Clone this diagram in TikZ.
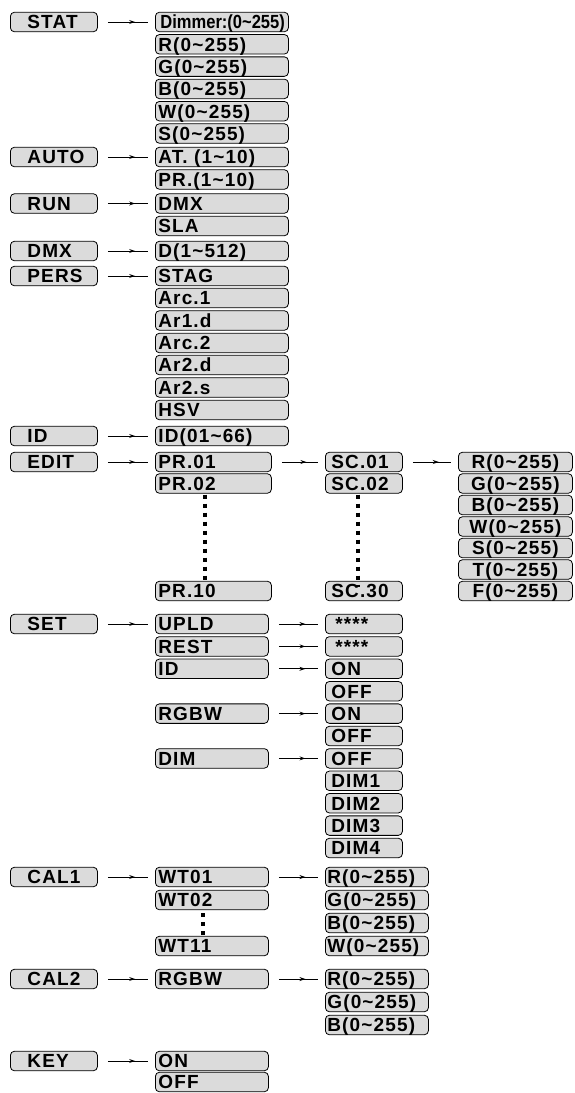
\documentclass[tikz,border=0pt]{standalone}
\usepackage{fontspec}
\usepackage{graphicx}
\usetikzlibrary{arrows.meta,decorations.markings}
\newfontfamily\lblfont{Liberation Sans}[LetterSpace=6]
\newfontfamily\lblfontN{Liberation Sans}
\definecolor{boxgray}{gray}{0.86}
\newcommand\tld{\char"007E\relax}
\begin{document}
\begin{tikzpicture}[x=1pt,y=-1pt,
  bx/.style={draw=black, line width=0.8pt, rounded corners=4pt, fill=boxgray,
    inner xsep=0pt, inner ysep=0pt, minimum height=19.5pt, text height=13.6pt,
    text depth=0pt, anchor=west, align=left,
    font=\lblfont\bfseries\fontsize{19}{20}\selectfont},
  cA/.style={bx, text width=87pt, execute at begin node={\hspace*{17pt}}},
  cW/.style={bx, text width=133pt, execute at begin node={\hspace*{3pt}}},
  cP/.style={bx, text width=116pt, execute at begin node={\hspace*{3pt}}},
  cB/.style={bx, text width=113pt, execute at begin node={\hspace*{3pt}}},
  cC/.style={bx, text width=77pt, execute at begin node={\hspace*{6pt}}},
  cCw/.style={bx, text width=103pt, execute at begin node={\hspace*{2pt}}},
  cD/.style={bx, text width=114pt, align=center},
  conn/.style={draw, line width=0.8pt, postaction={decorate},
    decoration={markings, mark=at position 0.68 with {\arrow{Stealth[open,length=6pt,width=4pt]}}}},
  dots/.style={line width=4pt, dash pattern=on 4pt off 5pt}
]
\useasboundingbox (0,0) rectangle (574,1093);
% STAT
\node[cA] (stat) at (10,22) {STAT};
\node[cW, font=\lblfontN\bfseries\fontsize{19}{20}\selectfont, execute at begin node={\hspace*{2pt}}] (dim) at (155,22) {\scalebox{0.87}[1]{Dimmer:(0\tld255)}};
\node[cW] (sr) at (155,44.3) {R(0\tld255)};
\node[cW] (sg) at (155,66.6) {G(0\tld255)};
\node[cW] (sb) at (155,88.9) {B(0\tld255)};
\node[cW] (sw) at (155,111.2) {W(0\tld255)};
\node[cW] (ss) at (155,133.5) {S(0\tld255)};
% AUTO
\node[cA] (auto) at (10,157) {AUTO};
\node[cW] (at) at (155,157) {AT. (1\tld10)};
\node[cW] (pr) at (155,179.5) {PR.(1\tld10)};
% RUN
\node[cA] (run) at (10,203.5) {RUN};
\node[cW] (rdmx) at (155,203.5) {DMX};
\node[cW] (sla) at (155,226) {SLA};
% DMX
\node[cA] (dmx) at (10,251) {DMX};
\node[cW] (d) at (155,251) {D(1\tld512)};
% PERS
\node[cA] (pers) at (10,276) {PERS};
\node[cW] (stag) at (155,276) {STAG};
\node[cW] (arc1) at (155,298) {Arc.1};
\node[cW] (ar1d) at (155,320.5) {Ar1.d};
\node[cW] (arc2) at (155,343) {Arc.2};
\node[cW] (ar2d) at (155,365) {Ar2.d};
\node[cW] (ar2s) at (155,387.5) {Ar2.s};
\node[cW] (hsv) at (155,410) {HSV};
% ID
\node[cA] (id) at (10,436) {ID};
\node[cW] (idr) at (155,436) {ID(01\tld66)};
% EDIT
\node[cA] (edit) at (10,462) {EDIT};
\node[cP] (pr01) at (155,462) {PR.01};
\node[cP] (pr02) at (155,483.5) {PR.02};
\node[cP] (pr10) at (155,591) {PR.10};
\node[cC] (sc01) at (325,462) {SC.01};
\node[cC] (sc02) at (325,483.5) {SC.02};
\node[cC] (sc30) at (325,591) {SC.30};
\node[cD] (er) at (458,462) {R(0\tld255)};
\node[cD] (eg) at (458,483.5) {G(0\tld255)};
\node[cD] (eb) at (458,505) {B(0\tld255)};
\node[cD] (ew) at (458,526.5) {W(0\tld255)};
\node[cD] (es) at (458,548) {S(0\tld255)};
\node[cD] (et) at (458,569.5) {T(0\tld255)};
\node[cD] (ef) at (458,591) {F(0\tld255)};
% SET
\node[cA] (set) at (10,624) {SET};
\node[cB] (upld) at (155,624) {UPLD};
\node[cB] (rest) at (155,646.4) {REST};
\node[cB] (sid) at (155,668.8) {ID};
\node[cB] (srgbw) at (155,713.6) {RGBW};
\node[cB] (sdim) at (155,758.4) {DIM};
\node[cC, execute at begin node={\hspace*{4pt}}] (st1) at (325,624) {****};
\node[cC, execute at begin node={\hspace*{4pt}}] (st2) at (325,646.4) {****};
\node[cC] (ion) at (325,668.8) {ON};
\node[cC] (ioff) at (325,691.2) {OFF};
\node[cC] (ron) at (325,713.6) {ON};
\node[cC] (roff) at (325,736) {OFF};
\node[cC] (doff) at (325,758.4) {OFF};
\node[cC] (dim1) at (325,780.8) {DIM1};
\node[cC] (dim2) at (325,803.2) {DIM2};
\node[cC] (dim3) at (325,825.6) {DIM3};
\node[cC] (dim4) at (325,848) {DIM4};
% CAL1
\node[cA] (cal1) at (10,877) {CAL1};
\node[cB] (wt01) at (155,877) {WT01};
\node[cB] (wt02) at (155,900) {WT02};
\node[cB] (wt11) at (155,946) {WT11};
\node[cCw] (c1r) at (325,877) {R(0\tld255)};
\node[cCw] (c1g) at (325,900) {G(0\tld255)};
\node[cCw] (c1b) at (325,923) {B(0\tld255)};
\node[cCw] (c1w) at (325,946) {W(0\tld255)};
% CAL2
\node[cA] (cal2) at (10,979) {CAL2};
\node[cB] (c2rgbw) at (155,979) {RGBW};
\node[cCw] (c2r) at (325,979) {R(0\tld255)};
\node[cCw] (c2g) at (325,1002) {G(0\tld255)};
\node[cCw] (c2b) at (325,1025) {B(0\tld255)};
% KEY
\node[cA] (key) at (10,1061) {KEY};
\node[cB] (kon) at (155,1061) {ON};
\node[cB] (koff) at (155,1082) {OFF};
% connectors
\foreach \a/\b in {stat/dim, auto/at, run/rdmx, dmx/d, pers/stag, id/idr, edit/pr01,
  pr01/sc01, sc01/er, set/upld, upld/st1, rest/st2, sid/ion, srgbw/ron, sdim/doff,
  cal1/wt01, wt01/c1r, cal2/c2rgbw, c2rgbw/c2r, key/kon}
  \draw[conn] ([xshift=10pt]\a.east) -- ([xshift=-7pt]\b.west);
% dotted continuation marks
\draw[dots] ([xshift=50pt,yshift=-1pt]pr02.south west) -- ([xshift=50pt]pr10.north west);
\draw[dots] ([xshift=33pt,yshift=-1pt]sc02.south west) -- ([xshift=33pt,yshift=-6pt]sc30.north west);
\draw[dots] ([xshift=48pt,yshift=-3pt]wt02.south west) -- ([xshift=48pt]wt11.north west);
\end{tikzpicture}
\end{document}
